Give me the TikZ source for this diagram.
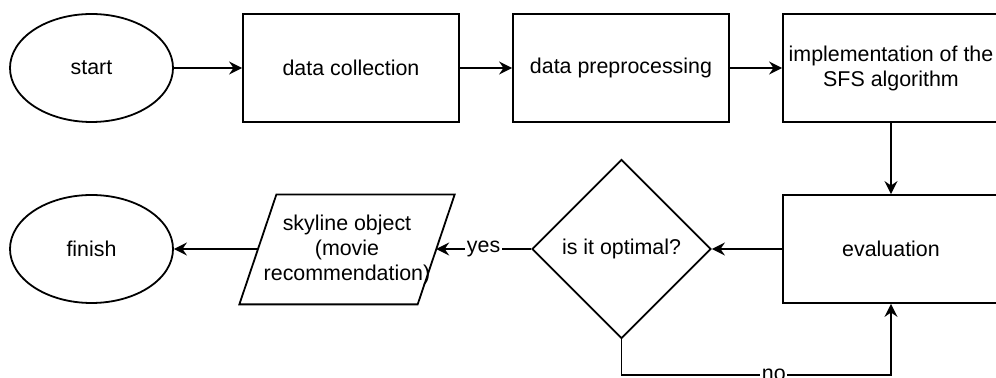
\documentclass[tikz,border=0pt]{standalone}
\usepackage{fontspec}
\setmainfont{Liberation Sans}
\usetikzlibrary{shapes.geometric,arrows.meta}
\begin{document}
\begin{tikzpicture}[x=0.5pt,y=-0.5pt,
  every node/.style={font=\fontsize{10.7pt}{12.5pt}\selectfont, text=black},
  line/.style={line width=0.9pt, draw=black},
  conn/.style={line, -{Stealth[length=6.5pt,width=6.5pt,inset=2.2pt]}},
  terminal/.style={ellipse, line, minimum width=81.5pt, minimum height=54pt, inner sep=0pt},
  proc/.style={rectangle, line, minimum width=108pt, minimum height=54pt, inner sep=0pt, align=center},
  decision/.style={diamond, line, minimum width=89.5pt, minimum height=89.5pt, inner sep=0pt},
  iobox/.style={rectangle, minimum width=88.75pt, minimum height=54.5pt, inner sep=0pt, align=center},
  lbl/.style={fill=white, inner sep=0.8pt}
]
\useasboundingbox (0,0) rectangle (996,378);
\clip (0,0) rectangle (996,378);

% top row
\node[terminal] (start) at (91.5,68) {start};
\node[proc] (dc) at (351,68) {data collection};
\node[proc] (dp) at (621,68) {data preprocessing};
\node[proc] (impl) at (891,68) {implementation of the\\SFS algorithm};

% bottom row
\node[proc] (eval) at (891,249) {evaluation};
\node[decision] (opt) at (621.5,249) {is it optimal?};
\node[iobox] (sky) at (347,249.5) {skyline object\\(movie\\recommendation)};
\draw[line] ([xshift=9.25pt]sky.north west) -- ([xshift=9.25pt]sky.north east)
  -- ([xshift=-9.25pt]sky.south east) -- ([xshift=-9.25pt]sky.south west) -- cycle;
\node[terminal] (finish) at (91.5,249) {finish};

% connectors
\draw[conn] (start) -- (dc);
\draw[conn] (dc) -- (dp);
\draw[conn] (dp) -- (impl);
\draw[conn] (impl) -- (eval);
\draw[conn] (eval.west) -- (opt.east);
\draw[conn] (opt.west) -- node[lbl] {yes} (sky.east |- opt.west);
\draw[conn] (sky.west |- finish.east) -- (finish.east);
\coordinate (nolevel) at (0,375);
\draw[conn] (opt.south) -- (opt.south |- nolevel)
  -- node[lbl, pos=0.565] {no} (eval.south |- nolevel) -- (eval.south);
\end{tikzpicture}
\end{document}
